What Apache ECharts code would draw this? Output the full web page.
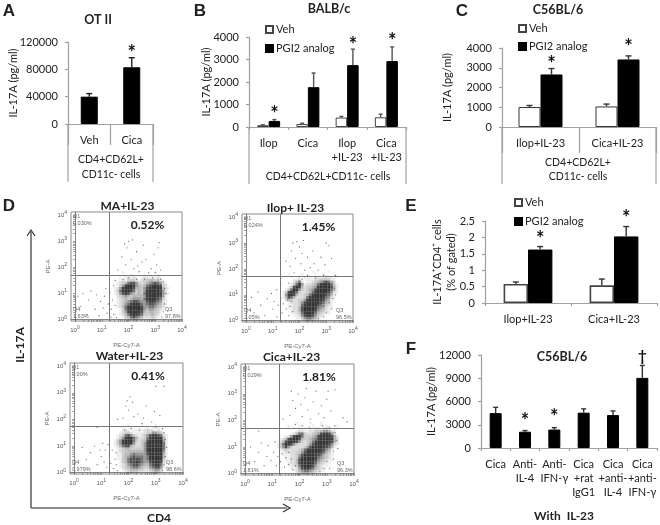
<!DOCTYPE html>
<html>
<head>
<meta charset="utf-8">
<script src="https://cdn.jsdelivr.net/npm/echarts@6/dist/echarts.min.js"></script>
<style>
html,body{margin:0;padding:0;background:#fff;}
#chart{width:660px;height:525px;}
</style>
</head>
<body>
<div id="chart"></div>
<script>
// panel A
var catA = ['Veh','Cica'];
var meanA = [40000,83000];
var topA = [44500,97000];
var starA = [null,103000];
// panel B
var catB = ['Ilop','Cica','Ilop\n+IL-23','Cica\n+IL-23'];
var vehB = [80,130,420,430];
var vehTopB = [100,170,470,570];
var pgiB = [270,1770,2750,2930];
var pgiTopB = [330,2400,3460,3560];
var starB = [533,null,3600,3820];
// panel C
var catC = ['Ilop+IL-23','Cica+IL-23'];
var vehC = [1010,1040];
var vehTopC = [1090,1160];
var pgiC = [2660,3420];
var pgiTopC = [2960,3600];
var starC = [3140,4000];
// panel E
var catE = ['Ilop+IL-23','Cica+IL-23'];
var vehE = [0.58,0.54];
var vehTopE = [0.64,0.73];
var pgiE = [1.63,2.03];
var pgiTopE = [1.72,2.33];
var starE = [1.92,2.59];
// panel F
var catF = ['Cica','Anti-\nIL-4','Anti-\nIFN-γ','Cica\n+rat\nIgG1','Cica\n+anti-\nIL-4','Cica\n+anti-\nIFN-γ'];
var meanF = [4500,2100,2380,4560,4250,9050];
var topF = [5250,2250,2620,5050,4780,10650];
var starF = [null,3350,3870,null,null,null];
var daggerF = [null,null,null,null,null,11800];

// flow cytometry panels: event density 0-9,
// one string per row from log10 y = 1.9 down to 0.0, columns log10 x = 1.0 to 3.5
var dens1 = [
"00000000000000000000000000",
"00000000100000100000100000",
"00000000010100001010010000",
"00000001012121012212121000",
"00000001213332123344342100",
"00000012346775323456765210",
"00000013589985434678987320",
"00000125899974435789998421",
"00000136899863435899997520",
"00000125787543436899998521",
"00000023454344445899987410",
"00000012343455546899876310",
"00000012345677655788765210",
"00000012356899865677654210",
"00000012468999975566543210",
"00000001368999985455432100",
"00000001358999874344331000",
"00000001246898763334321000",
"00000000134676542223210000",
"00000000012343211112100000"];
var dens2 = [
"00000000000000010000010000",
"00000010000100001001000100",
"00000001001010100101210100",
"00000000112011112233331100",
"00000000246201123456764200",
"00000001369512234689986310",
"00000013798423345899997410",
"00000136985323457899986410",
"00001379863223468999875210",
"00001589742234689999764100",
"00001476422236899998652100",
"00000243223358999987541000",
"00000012223579999876431000",
"00000011223689999765321000",
"00000011224799998654211000",
"00000001224799997543210000",
"00000001123689986432110000",
"00000000112578875321000000",
"00000000011356654210000000",
"00000000000123321100000000"];
var dens3 = [
"00000000000000000000000000",
"00000000001000010000100000",
"00000000100100100101010000",
"00000000121011112122121000",
"00000001233211112335543100",
"00000012367532123578876210",
"00000013589964223689998410",
"00000135899963234799999510",
"00000135899852235899999610",
"00000124677432235899999610",
"00000012344333335899999610",
"00000012334444445899999510",
"00000011344565555799999410",
"00000011345676665699998410",
"00000011346777765689998310",
"00000001346778765578997210",
"00000001235677654467886100",
"00000001234566543356775100",
"00000000123444332234553000",
"00000000012322111112321000"];
var dens4 = [
"00000000010000100010000000",
"00000010001000010010100010",
"00000000101010101101210100",
"00000000012211223345542100",
"00000001246632234578875200",
"00000125899633345899997410",
"00012478997433456899998420",
"00124789875323468999987420",
"00136987532223579999875210",
"00135753222235799998764100",
"00012322223468999987541000",
"00001222233579999876431000",
"00001112235799998764321000",
"00000112236899998654321000",
"00000112247999997543211000",
"00000012247899986432110000",
"00000011236899975321100000",
"00000001125788764321000000",
"00000000124566543211000000",
"00000000012333221000000000"];
// scattered single events outside the main clouds
var dots1 = [[0.1,0.9],[0.2,0.5],[0.3,1.0],[0.45,0.2],[0.5,0.75],[0.6,1.1],[0.75,0.4],[0.8,0.95],[0.9,0.15],[0.95,0.7],[1.05,0.45],[1.1,0.9],[1.15,1.2],[1.2,0.25],[1.25,0.6],[1.3,1.05],[1.35,0.1],[1.35,0.4],[1.4,0.75],[1.45,1.3],[1.45,0.2],[1.5,0.55],[1.5,1.5],[1.55,0.08],[3.3,1.45],[3.35,1.2],[3.3,0.9],[3.35,0.6],[3.3,0.3],[3.4,1.0],[3.25,0.1],[3.2,1.55],[2.9,1.6],[2.6,1.55],[2.3,1.55],[2.0,1.6],[1.8,1.55],[2.2,1.95],[2.1,2.3],[1.95,2.75],[1.85,2.9],[2.0,3.0],[2.15,3.05],[2.3,2.6],[1.9,2.1],[2.5,2.2],[2.55,2.85],[2.65,2.3],[2.85,1.95],[2.95,2.5],[3.05,2.1],[3.1,2.75],[3.15,2.95],[3.2,1.9],[3.0,1.8],[1.75,2.4],[1.6,1.9],[2.4,1.85],[2.75,1.8],[2.35,2.05]];
var dots2 = [[0.2,0.9],[0.3,0.3],[0.45,1.1],[0.55,0.6],[0.7,0.2],[0.8,0.85],[0.95,1.05],[1.0,0.45],[1.05,0.75],[1.15,1.2],[1.15,0.15],[1.2,0.6],[1.3,0.85],[1.3,1.4],[1.35,0.3],[1.4,0.65],[1.5,0.45],[1.55,0.8],[1.6,0.2],[1.65,0.55],[1.7,0.75],[1.75,0.35],[1.3,1.65],[1.6,1.45],[3.25,1.5],[3.3,1.25],[3.35,1.0],[3.25,0.85],[3.1,0.7],[3.2,0.45],[3.0,0.3],[2.9,0.55],[2.9,0.15],[2.7,0.08],[3.35,1.75],[3.15,1.7],[2.9,1.75],[2.6,1.65],[2.3,1.75],[2.1,1.6],[1.8,1.85],[1.65,2.1],[1.7,2.7],[1.75,3.0],[1.85,2.4],[1.9,3.05],[2.0,2.85],[2.05,2.2],[2.1,2.6],[2.2,1.95],[2.3,2.45],[2.4,2.05],[2.5,2.7],[2.55,2.2],[2.7,1.95],[2.8,2.45],[2.95,2.15],[3.0,3.0],[3.1,2.9],[3.2,2.4],[2.15,3.1],[1.5,2.3]];
var dots3 = [[0.3,0.95],[0.45,0.5],[0.6,0.75],[0.75,1.0],[0.85,0.3],[0.95,0.85],[1.0,0.6],[1.05,1.1],[1.1,0.4],[1.15,0.85],[1.2,0.2],[1.25,1.05],[1.3,0.65],[1.35,0.35],[1.4,0.85],[1.45,0.15],[1.5,0.5],[1.55,0.75],[1.55,0.3],[1.6,0.08],[3.3,1.5],[3.35,1.25],[3.4,0.95],[3.35,0.6],[3.3,0.3],[3.25,0.08],[3.25,1.65],[3.0,1.7],[2.7,1.6],[2.4,1.6],[2.1,1.65],[1.85,1.6],[1.8,2.05],[1.9,2.5],[1.95,2.7],[2.05,2.85],[2.0,2.35],[2.15,2.65],[2.2,2.1],[2.35,2.2],[2.55,2.05],[2.65,2.5],[2.85,1.9],[2.95,2.3],[3.0,3.25],[3.3,3.25],[3.15,2.15],[2.5,1.85],[1.6,2.0],[0.85,1.7]];
var dots4 = [[0.2,1.0],[0.35,0.45],[0.5,0.8],[0.6,1.15],[0.7,0.3],[0.8,0.65],[0.85,1.05],[0.95,0.5],[1.05,0.8],[1.1,1.2],[1.15,0.3],[1.2,0.65],[1.3,0.45],[1.35,0.75],[1.45,0.25],[1.5,0.6],[1.6,0.8],[1.6,0.35],[1.7,0.55],[1.75,0.15],[1.85,0.3],[3.3,1.55],[3.35,1.25],[3.4,0.95],[3.25,0.85],[3.25,0.55],[3.0,0.45],[3.1,0.2],[2.9,0.2],[2.75,0.08],[3.3,1.8],[3.1,1.75],[2.85,1.8],[2.6,1.7],[2.35,1.75],[2.1,1.8],[1.85,1.85],[1.6,1.7],[1.65,2.2],[1.75,2.75],[1.7,3.1],[1.85,2.45],[1.95,3.0],[2.05,2.6],[2.1,2.15],[2.2,2.85],[2.3,2.4],[2.4,2.05],[2.5,2.7],[2.6,3.1],[2.7,2.25],[2.8,2.55],[2.9,2.1],[3.0,2.8],[3.05,3.1],[3.15,2.35],[3.3,3.15],[3.6,2.1],[3.75,1.95],[2.25,3.2],[1.4,2.05],[0.5,1.6]];

var facsNames = ['MA+IL-23','Ilop+ IL-23','Water+IL-23','Cica+IL-23'];
var facsPct = ['0.52%','1.45%','0.41%','1.81%'];
var q1Text = ['0.030%','0.024%','0.00%','0.029%'];
var q4Text = ['1.63%','2.05%','0.979%','1.81%'];
var q3Text = ['97.8%','96.5%','98.6%','96.3%'];
var facsGate = [[1.27,1.7],[1.27,1.72],[1.3,1.75],[1.27,1.72]];
var facsDens = [dens1,dens2,dens3,dens4];
var facsDots = [dots1,dots2,dots3,dots4];
var facsLabels = [0,1,2,3,4];

var font = 'Lato, "Open Sans", sans-serif';
var axisGrey = '#a0a0a0';
var textCol = '#222';
// how dark each density step is drawn
var densAlpha = [0,0.08,0.16,0.25,0.35,0.5,0.68,0.85,0.95,1];

// log minor ticks for the cytometer axes
var facsTicks = [];
for(var d=0;d<4;d++){
    for(var m=1;m<10;m++){
        facsTicks.push(d+Math.log10(m));
    }
}
facsTicks.push(4);

// x0,y0 = top left of plot, x1,y1 = bottom right
function box(x0,y0,x1,y1){
    return {left:x0,top:y0,width:x1-x0,height:y1-y0,containLabel:false};
}

var grid=[
    box(68,42,153,124),
    box(249,37,406,127),
    box(502,48,656,127),
    box(485,221,657,303),
    box(481,355,657,448)
];
var facsBoxes=[
    box(71,212,182,321),
    box(242,214,353,322),
    box(70,363,183,474),
    box(241,364,354,475)
];
var xAxis=[],yAxis=[],series=[],texts=[];

function addBarAxes(idx,cats,max,interval,name,nameGap,opt){
    opt=opt||{};
    xAxis.push({
        type:'category',gridIndex:idx,data:cats,
        axisLine:{lineStyle:{color:axisGrey,width:1.2}},
        axisTick:{show:true,length:opt.tick||3,lineStyle:{color:axisGrey,width:1.2}},
        axisLabel:{color:textCol,fontFamily:font,fontSize:opt.size||11,margin:opt.margin||8,lineHeight:14,interval:0}
    });
    yAxis.push({
        type:'value',gridIndex:idx,min:0,max:max,interval:interval,
        name:name,nameLocation:'middle',nameGap:nameGap,nameMoveOverlap:false,
        nameTextStyle:{color:textCol,fontFamily:font,fontSize:opt.nameSize||11,lineHeight:14},
        splitLine:{show:false},
        axisLine:{show:true,lineStyle:{color:axisGrey,width:1.2}},
        axisTick:{show:true,length:3,lineStyle:{color:axisGrey,width:1.2}},
        axisLabel:{color:textCol,fontFamily:font,fontSize:opt.size||11,margin:10,
            formatter:function(v){return String(v);}}
    });
}

function addBars(idx,name,values,color,border,barW,gap,bw){
    series.push({
        type:'bar',name:name,xAxisIndex:idx,yAxisIndex:idx,data:values,
        barWidth:barW,barGap:gap,
        itemStyle:{color:color,borderColor:border,borderWidth:bw||1},
        animation:false
    });
}

// upper error whisker, shift moves it off the band centre in px
function addErrors(idx,means,tops,shift,cap,color){
    var data=[];
    for(var i=0;i<means.length;i++){
        data.push([i,means[i],tops[i]]);
    }
    series.push({
        type:'custom',xAxisIndex:idx,yAxisIndex:idx,data:data,z:5,silent:true,
        encode:{x:0,y:[1,2]},
        renderItem:function(params,api){
            var a=api.coord([api.value(0),api.value(1)]);
            var b=api.coord([api.value(0),api.value(2)]);
            var x=a[0]+shift;
            var st={stroke:color,lineWidth:1.4};
            return {type:'group',children:[
                {type:'line',shape:{x1:x,y1:a[1],x2:x,y2:b[1]},style:st},
                {type:'line',shape:{x1:x-cap,y1:b[1],x2:x+cap,y2:b[1]},style:st}
            ]};
        }
    });
}

// significance marks sit on the axis values so they follow the scale
function addMarks(idx,values,shift,mark,size){
    var data=[];
    for(var i=0;i<values.length;i++){
        if(values[i]!==null){
            data.push([i,values[i]]);
        }
    }
    series.push({
        type:'custom',xAxisIndex:idx,yAxisIndex:idx,data:data,z:6,silent:true,clip:false,
        renderItem:function(params,api){
            var p=api.coord([api.value(0),api.value(1)]);
            return {type:'text',style:{x:p[0]+shift,y:p[1],text:mark,fill:'#111',
                font:'bold '+size+'px '+font,align:'center',verticalAlign:'middle'}};
        }
    });
}

function text(str,x,y,size,bold,opt){
    opt=opt||{};
    texts.push({
        type:'text',x:x,y:y,rotation:opt.rotation||0,silent:true,z:20,
        style:{text:str,fill:opt.color||textCol,
            font:(bold?'bold ':'')+size+'px '+(opt.family||font),
            align:opt.align||'center',verticalAlign:'middle'}
    });
}

function vline(x,y0,y1,color,w){
    texts.push({type:'line',silent:true,z:1,shape:{x1:x,y1:y0,x2:x,y2:y1},
        style:{stroke:color||axisGrey,lineWidth:w||1.2}});
}

// turn the density rows into [x,y,density] points
function densPoints(rows){
    var pts=[];
    rows.forEach(function(row,r){
        for(var c=0;c<row.length;c++){
            var v=+row[c];
            if(v>0){
                pts.push([1+c/10,1.9-r/10,v]);
            }
        }
    });
    return pts;
}

// panel A
addBarAxes(0,catA,120000,40000,'IL-17A (pg/ml)',48,{tick:21,margin:9});
addBars(0,'IL-17A',meanA,'#000','#000',17);
addErrors(0,meanA,topA,0,3,'#222');
addMarks(0,starA,0,'*',20);
vline(68,124,182);vline(153,124,182);
text('OT II',98,20,12.5,true);
text('CD4+CD62L+',111,160,10.5);
text('CD11c- cells',111,175,10.5);

// panel B
addBarAxes(1,catB,4000,1000,'IL-17A (pg/ml)',36,{margin:9});
addBars(1,'Veh',vehB,'#fff','#444',11.5,0);
addBars(1,'PGI2 analog',pgiB,'#000','#000',11.5,0);
addErrors(1,vehB,vehTopB,-5.75,2,'#555');
addErrors(1,pgiB,pgiTopB,5.75,2,'#555');
addMarks(1,starB,5.75,'*',20);
vline(249,127,184);vline(406,127,184);
text('BALB/c',329,9,12.5,true);
text('CD4+CD62L+CD11c- cells',328,177,10.5);

// panel C
addBarAxes(2,catC,4000,1000,'IL-17A (pg/ml)',48,{tick:26,margin:9});
addBars(2,'Veh',vehC,'#fff','#333',22,0);
addBars(2,'PGI2 analog',pgiC,'#000','#000',22,0);
addErrors(2,vehC,vehTopC,-11,3,'#333');
addErrors(2,pgiC,pgiTopC,11,3,'#333');
addMarks(2,starC,11,'*',20);
vline(502,127,184);vline(656,127,184);
text('C56BL/6',558,10,12.5,true);
text('CD4+CD62L+',578,163,10.5);
text('CD11c- cells',578,177,10.5);

// panel E
addBarAxes(3,catE,2.5,0.5,'IL-17A⁺CD4⁺ cells\n(% of gated)',27,{size:11,margin:9});
addBars(3,'Veh',vehE,'#fff','#444',24.4,0,1.6);
addBars(3,'PGI2 analog',pgiE,'#000','#000',24.4,0);
addErrors(3,vehE,vehTopE,-12.2,3,'#333');
addErrors(3,pgiE,pgiTopE,12.2,3,'#333');
addMarks(3,starE,12.2,'*',20);

// panel F
addBarAxes(4,catF,12000,3000,'IL-17A (pg/ml)',43,{margin:9});
addBars(4,'IL-17A ',meanF,'#000','#000',12);
addErrors(4,meanF,topF,0,2.5,'#333');
addMarks(4,starF,0,'*',20);
addMarks(4,daggerF,0,'†',15);
text('C56BL/6',562,357,12.5,true);
text('With  IL-23',564,516,12,true);

// panel letters
var letterFont={family:'"Liberation Sans", Arial, sans-serif'};
text('A',9,11,17,true,letterFont);
text('B',200,11,17,true,letterFont);
text('C',462,11,17,true,letterFont);
text('D',9,206,17,true,letterFont);
text('E',411,206,17,true,letterFont);
text('F',411,349,17,true,letterFont);

// panel D dot plots
facsBoxes.forEach(function(b,k){
    var idx=grid.length;
    grid.push(Object.assign({show:true,borderColor:'#8a8a8a',borderWidth:1,backgroundColor:'transparent'},b));
    var labelOpt={
        color:'#555',fontFamily:'"Liberation Sans", sans-serif',fontSize:6,margin:4,
        customValues:facsLabels,
        formatter:function(v){return '10{s|'+Math.round(v)+'}';},
        rich:{s:{fontSize:5,color:'#555',padding:[0,0,5,0]}}
    };
    var tickOpt={show:true,length:2,customValues:facsTicks,lineStyle:{color:'#666',width:0.6}};
    xAxis.push({
        type:'value',gridIndex:idx,min:-0.15,max:4,
        name:'PE-Cy7-A',nameLocation:'middle',nameGap:21,nameMoveOverlap:false,
        nameTextStyle:{color:'#666',fontFamily:'"Liberation Sans", sans-serif',fontSize:6},
        splitLine:{show:false},axisLine:{show:true,lineStyle:{color:'#666',width:0.8}},
        axisTick:tickOpt,axisLabel:labelOpt
    });
    yAxis.push({
        type:'value',gridIndex:idx,min:-0.05,max:4.12,
        name:'PE-A',nameLocation:'middle',nameGap:20,nameMoveOverlap:false,
        nameTextStyle:{color:'#666',fontFamily:'"Liberation Sans", sans-serif',fontSize:6},
        splitLine:{show:false},axisLine:{show:true,lineStyle:{color:'#666',width:0.8}},
        axisTick:tickOpt,axisLabel:labelOpt
    });
    series.push({type:'scatter',xAxisIndex:idx,yAxisIndex:idx,data:densPoints(facsDens[k]),
        symbol:'rect',symbolSize:2.7,silent:true,z:2,
        itemStyle:{color:function(p){
            return 'rgba(0,0,0,'+densAlpha[p.value[2]]+')';
        }}
    });
    series.push({type:'scatter',xAxisIndex:idx,yAxisIndex:idx,data:facsDots[k],symbolSize:1.3,
        itemStyle:{color:'#444',opacity:0.75},silent:true,z:3,
        markLine:{silent:true,symbol:'none',animation:false,label:{show:false},
            lineStyle:{color:'#777',width:1,type:'solid'},
            data:[{xAxis:facsGate[k][0]},{yAxis:facsGate[k][1]}]}
    });
    // texts of the plot, placed from the plot box
    var cx=b.left+b.width/2;
    text(facsNames[k],cx+(k==0?1:k==1?-2:k==2?3:-6),b.top-(k>1?7:6),12,true);
    text(facsPct[k],b.left+b.width*0.69,b.top+13,12,true);
    var small={align:'left',color:'#666',family:'"Liberation Sans", sans-serif'};
    text('Q1',b.left+2,b.top+4,5.5,false,small);
    text(q1Text[k],b.left+2,b.top+11,5.5,false,small);
    text('Q4',b.left+2,b.top+b.height-12,5.5,false,small);
    text(q4Text[k],b.left+2,b.top+b.height-5,5.5,false,small);
    text('Q3',b.left+b.width-17,b.top+b.height-12,5.5,false,small);
    text(q3Text[k],b.left+b.width-17,b.top+b.height-5,5.5,false,small);
});

// axis arrows of panel D
var arrowCol='#666';
vline(31,231,508,arrowCol,1.6);
texts.push({type:'line',silent:true,shape:{x1:31,y1:508,x2:287,y2:508},style:{stroke:arrowCol,lineWidth:1.6}});
texts.push({type:'polyline',silent:true,shape:{points:[[27,236],[31,230],[35,236]]},style:{stroke:'#333',fill:'none',lineWidth:1.2}});
texts.push({type:'polyline',silent:true,shape:{points:[[283,504],[290,508],[283,512]]},style:{stroke:'#333',fill:'none',lineWidth:1.2}});
text('IL-17A',20,345,12,true,{rotation:Math.PI/2});
text('CD4',159,518,12,true);

var legendBase={orient:'vertical',itemWidth:7,itemHeight:7,selectedMode:false,padding:0,icon:'rect',
    data:['Veh','PGI2 analog']};
function legendAt(x,y,gap){
    return Object.assign({},legendBase,{left:x,top:y,itemGap:gap,
        textStyle:{color:textCol,fontFamily:font,fontSize:11,padding:[0,0,0,-2]}});
}

var option={
    animation:false,
    backgroundColor:'#fff',
    grid:grid,
    xAxis:xAxis,
    yAxis:yAxis,
    legend:[legendAt(265,24,8),legendAt(518,23,7),legendAt(514,197,8)],
    graphic:{elements:texts},
    series:series
};

var chart=echarts.init(document.getElementById('chart'));
chart.setOption(option);
</script>
</body>
</html>
